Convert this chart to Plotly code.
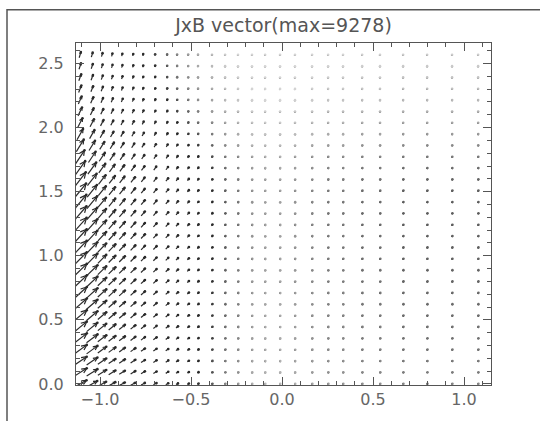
import math
import plotly.graph_objects as go

# ---- data ----
title_text = "JxB vector(max=9278)"
vmax = 9278

# grid column positions (non-uniform) and row positions
x_cols = [-1.110, -1.044, -0.989, -0.934, -0.879, -0.819, -0.764, -0.698,
          -0.632, -0.577, -0.516, -0.462, -0.385, -0.313, -0.242, -0.165,
          -0.093, -0.011, 0.071, 0.165, 0.253, 0.335, 0.440, 0.538,
          0.665, 0.797, 0.934, 1.077]
y_rows = [0.000, 0.089, 0.177, 0.266, 0.354, 0.443, 0.531, 0.620, 0.708,
          0.797, 0.885, 0.974, 1.062, 1.151, 1.239, 1.328, 1.416, 1.505,
          1.593, 1.682, 1.770, 1.859, 1.947, 2.036, 2.124, 2.213, 2.301,
          2.390, 2.478, 2.567]

# relative |JxB| by column and row (fraction of max), and direction by row
col_mag = [1.00, 0.80, 0.62, 0.50, 0.42, 0.35, 0.29, 0.24, 0.19, 0.15,
           0.12, 0.10, 0.08, 0.06, 0.05, 0.04, 0.035, 0.035, 0.04, 0.045,
           0.05, 0.05, 0.055, 0.055, 0.06, 0.06, 0.06, 0.06]
row_mag = [0.75, 0.80, 0.82, 0.85, 0.87, 0.88, 0.90, 0.92, 0.93, 0.95,
           0.96, 0.97, 0.98, 0.99, 1.00, 1.00, 1.00, 0.98, 0.95, 0.90,
           0.82, 0.72, 0.62, 0.54, 0.47, 0.42, 0.38, 0.35, 0.32, 0.30]
row_ang = [30, 33, 35, 37, 38, 40, 41, 42, 43, 44, 45, 46, 47, 48, 49,
           50, 51, 52, 53, 55, 57, 59, 61, 63, 65, 67, 69, 70, 72, 74]

x_ticks = [-1.0, -0.5, 0.0, 0.5, 1.0]
y_ticks = [0.0, 0.5, 1.0, 1.5, 2.0, 2.5]

# ---- layout geometry ----
W, H = 540, 421
ML, MR, MT, MB = 76, 49, 43, 28
x_range = [-1.132, 1.148]
y_range = [-0.008, 2.66]
pw, ph = W - ML - MR, H - MT - MB
ppx = pw / (x_range[1] - x_range[0])
ppy = ph / (y_range[1] - y_range[0])
LMAX = 20.0  # pixel length of the max vector

ax, ay = [], []
dx_pts, dy_pts, dc = [], [], []
for j, yv in enumerate(y_rows):
    for i, xv in enumerate(x_cols):
        m = col_mag[i] * row_mag[j]
        th = math.radians(row_ang[j])
        L = m * LMAX
        ux, uy = math.cos(th), math.sin(th)
        sx, sy = xv - 0.5 * L * ux / ppx, yv - 0.5 * L * uy / ppy
        ex, ey = xv + 0.5 * L * ux / ppx, yv + 0.5 * L * uy / ppy
        ax += [sx, ex, None]
        ay += [sy, ey, None]
        h = max(0.35 * L, 1.2)
        for s in (1, -1):
            a = th + s * math.radians(25)
            ax += [ex - h * math.cos(a) / ppx, ex]
            ay += [ey - h * math.sin(a) / ppy, ey]
        ax.append(None)
        ay.append(None)
        dx_pts.append(ex)
        dy_pts.append(ey)
        dc.append(m)

fig = go.Figure()
fig.add_trace(go.Scatter(x=ax, y=ay, mode="lines",
                         line=dict(color="#2a2a2a", width=1.2),
                         hoverinfo="skip", showlegend=False))
fig.add_trace(go.Scatter(x=dx_pts, y=dy_pts, mode="markers",
                         marker=dict(size=2.6, color=dc,
                                     colorscale=[[0, "#d4d4d4"], [1, "#2a2a2a"]],
                                     cmin=0.015, cmax=0.08, line=dict(width=0)),
                         hoverinfo="skip", showlegend=False))

axis_common = dict(showgrid=False, zeroline=False, showline=True,
                   linecolor="#555555", linewidth=1, mirror="allticks",
                   ticks="inside", ticklen=8, tickwidth=1, tickcolor="#555555",
                   tickfont=dict(family="DejaVu Sans", size=16, color="#666666"),
                   minor=dict(ticks="inside", ticklen=4, tickwidth=1,
                              tickcolor="#555555", dtick=0.1))

fig.update_xaxes(range=x_range, tickvals=x_ticks,
                 ticktext=[f"{v:.1f}".replace("-", "\u2212") for v in x_ticks],
                 tick0=0, **axis_common)
fig.update_yaxes(range=y_range, tickvals=y_ticks,
                 ticktext=[f"{v:.1f}" for v in y_ticks],
                 ticklabelstandoff=8, **axis_common)

fig.update_layout(
    width=W, height=H,
    margin=dict(l=ML, r=MR, t=MT, b=MB),
    paper_bgcolor="white", plot_bgcolor="white",
    title=dict(text=title_text, x=0.5, xref="paper", xanchor="center",
               y=1 - 25 / H, yref="container", yanchor="middle",
               font=dict(family="DejaVu Sans", size=19, color="#555555")),
    shapes=[dict(type="rect", xref="paper", yref="paper",
                 x0=(7 - ML) / pw, x1=2.0, y0=-1.0, y1=(H - MB - 9) / ph,
                 line=dict(color="#555555", width=1.5), layer="below")],
)

fig.write_html("out.html")
